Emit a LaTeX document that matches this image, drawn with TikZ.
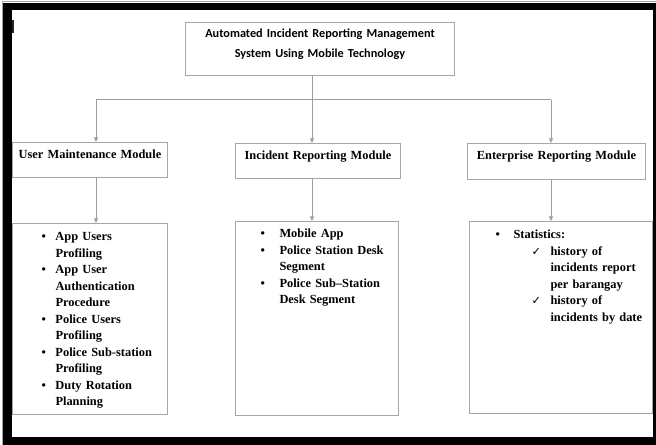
\documentclass[tikz,border=0pt]{standalone}
\usepackage{fontspec}
\setmainfont{Liberation Serif}
\newfontfamily\titlefont{Carlito}
\newfontfamily\symfont{DejaVu Sans}
\usetikzlibrary{arrows.meta}
\definecolor{boxgray}{RGB}{166,166,166}
\definecolor{linkgray}{RGB}{158,158,158}
\newcommand{\tick}{{\symfont\mdseries\fontsize{8.5}{9}\selectfont ✓}}
\tikzset{
  box/.style={draw=boxgray, line width=0.75pt, anchor=north west, inner sep=0pt,
    font=\bfseries\fontsize{9.3}{12.4}\selectfont},
  module/.style={box, align=center, text height=12pt, text depth=14.25pt},
  list/.style={box, align=left, text height=12.75pt},
  link/.style={draw=linkgray, line width=0.75pt},
  arrow/.style={link, -{Triangle[length=3.5pt,width=3pt]}},
}

\begin{document}
\begin{tikzpicture}[x=0.75pt,y=-0.75pt]
\useasboundingbox (0,0) rectangle (656,445);
\fill[white] (0,0) rectangle (656,445);
% page frame
\draw[black!35, line width=0.75pt] (2,445) -- (2,2) -- (656,2);
\fill[black] (3,3) rectangle (656,445);
\fill[white] (12,10) rectangle (653,437);
\fill[black!85] (12,20) rectangle (13.5,33);

\node[box, align=center, text width=201.75pt, text height=11.25pt, text depth=28.5pt,
  font=\titlefont\bfseries\fontsize{9.2}{15}\selectfont] (title) at (185,22)
  {Automated Incident Reporting Management\\System Using Mobile Technology};

\node[module, text width=116.25pt] (um) at (12,142) {User Maintenance Module};
\node[module, text width=123.75pt] (irm) at (235,143) {Incident Reporting Module};
\node[module, text width=133.5pt, text depth=15pt] (erm) at (467,143) {Enterprise Reporting Module};

\node[list, text width=116.25pt, text depth=130.5pt] (umList) at (12,223)
{\begin{tabular}[t]{@{\hspace{21.75pt}}p{10.5pt}@{}l@{}}
\textbullet & App Users\\
 & Profiling\\
\textbullet & App User\\
 & Authentication\\
 & Procedure\\
\textbullet & Police Users\\
 & Profiling\\
\textbullet & Police Sub-station\\
 & Profiling\\
\textbullet & Duty Rotation\\
 & Planning
\end{tabular}};

\node[list, text width=122.25pt, text height=12pt, text depth=133.5pt] (irList) at (235,221)
{\begin{tabular}[t]{@{\hspace{18.75pt}}p{14.25pt}@{}l@{}}
\textbullet & Mobile App\\
\textbullet & Police Station Desk\\
 & Segment\\
\textbullet & Police Sub–Station\\
 & Desk Segment
\end{tabular}};

\node[list, text width=137.25pt, text depth=131.25pt] (erList) at (469,221)
{\begin{tabular}[t]{@{\hspace{19.5pt}}p{13.5pt}@{}p{13.5pt}@{}p{14.25pt}@{}l@{}}
\textbullet & \multicolumn{3}{@{}l@{}}{Statistics:}\\
 & & \tick & history of\\
 & & & incidents report\\
 & & & per barangay\\
 & & \tick & history of\\
 & & & incidents by date
\end{tabular}};

% connectors
\coordinate (jl) at (96,100);
\coordinate (jm) at (312,100);
\coordinate (jr) at (551,100);
\draw[link] (title.south -| jm) -- (jm);
\draw[link] (jl) -- (jr);
\draw[arrow] (jl) -- (jl |- um.north);
\draw[arrow] (jm) -- (jm |- irm.north);
\draw[arrow] (jr) -- (jr |- erm.north);
\draw[arrow] (um.south -| jl) -- (jl |- umList.north);
\draw[arrow] (irm.south -| jm) -- (jm |- irList.north);
\draw[arrow] (erm.south -| jr) -- (jr |- erList.north);
\end{tikzpicture}
\end{document}
